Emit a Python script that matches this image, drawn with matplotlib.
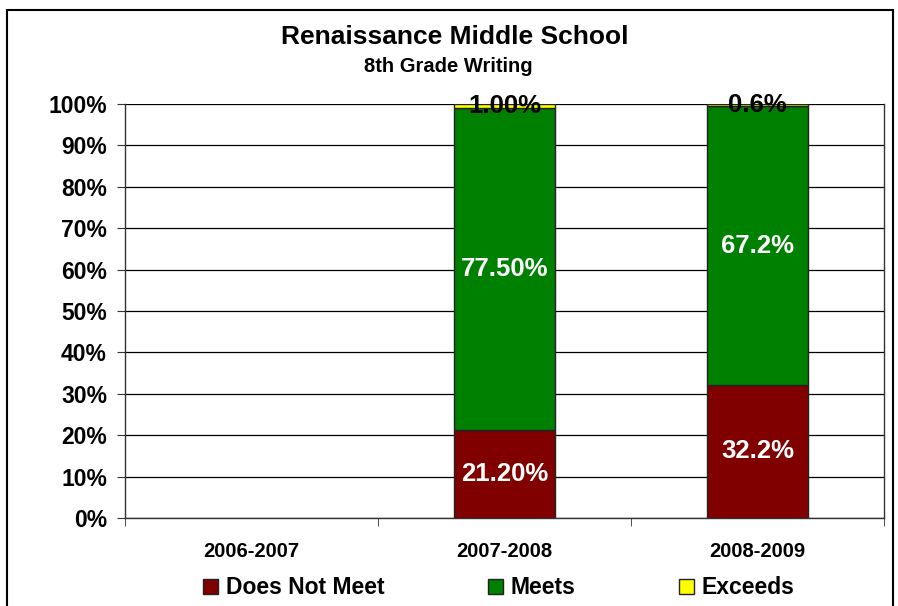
import numpy as np
import matplotlib.pyplot as plt
from matplotlib.patches import Rectangle

plt.rcParams['font.family'] = ['Liberation Sans', 'DejaVu Sans']
plt.rcParams['font.weight'] = 'bold'

years = ['2006-2007', '2007-2008', '2008-2009']
does_not_meet = [0.0, 21.2, 32.2]
meets = [0.0, 77.5, 67.2]
exceeds = [0.0, 1.0, 0.6]
dnm_labels = ['', '21.20%', '32.2%']
meets_labels = ['', '77.50%', '67.2%']
exceeds_labels = ['', '1.00%', '0.6%']

# 100% stacked: scale each column to its total
raw = np.array([does_not_meet, meets, exceeds])
tot = raw.sum(axis=0)
tot[tot == 0] = 1
shares = raw / tot * 100

fig = plt.figure(figsize=(8.98, 6.06), dpi=100)
ax = fig.add_axes([125/898, 88/606, 759/898, 414/606])

x = np.arange(len(years))
colors = ['#800000', '#008000', '#FFFF00']
names = ['Does Not Meet', 'Meets', 'Exceeds']
labels = [dnm_labels, meets_labels, exceeds_labels]
txt_colors = ['white', 'white', 'black']

bottom = np.zeros(len(years))
for i in range(3):
    h = np.where(shares[i] > 0, shares[i], np.nan)  # no empty bar outline
    bars = ax.bar(x, h, 0.4, bottom=bottom, color=colors[i],
                  edgecolor='#222222', linewidth=1, label=names[i], zorder=3)
    for j, b in enumerate(bars):
        if labels[i][j]:
            ax.text(x[j], bottom[j] + shares[i][j]/2,
                    labels[i][j], ha='center', va='center', fontsize=18.5,
                    color=txt_colors[i], fontweight='bold', zorder=5)
    bottom += shares[i]

ax.set_xlim(-0.5, 2.5)
ax.set_ylim(0, 100)
ax.set_yticks(np.arange(0, 101, 10))
ax.set_yticklabels([f'{v}%' for v in range(0, 101, 10)], fontsize=16.5)
ax.yaxis.grid(True, color='black', linewidth=0.9, zorder=0)
ax.set_axisbelow(True)

ax.set_xticks(x)
ax.set_xticklabels(years, fontsize=14.5)
ax.set_xticks([-0.5, 0.5, 1.5, 2.5], minor=True)
ax.tick_params(axis='x', which='major', length=0, pad=17)
ax.tick_params(axis='x', which='minor', length=6, direction='out', color='#333333')
ax.tick_params(axis='y', length=6, direction='out', color='#333333', pad=7)

for s in ['left', 'bottom', 'right']:
    ax.spines[s].set_color('#333333')
    ax.spines[s].set_linewidth(1)
ax.spines['top'].set_visible(False)

fig.text(455/898, 1 - 37/606, 'Renaissance Middle School', ha='center', va='center',
         fontsize=19, fontweight='bold')
fig.text(448/898, 1 - 67/606, '8th Grade Writing', ha='center', va='center',
         fontsize=14.5, fontweight='bold')

leg = fig.legend(loc='center', bbox_to_anchor=(499/898, 1 - 588/606), ncol=3,
                 frameon=False, fontsize=16.5, handlelength=0.65, handleheight=0.65,
                 handletextpad=0.35, columnspacing=4.5)

fig.patches.append(Rectangle((7/898, -0.02), 886/898, 1 - 10/606 + 0.02,
                             transform=fig.transFigure, fill=False,
                             edgecolor='black', linewidth=1.5))

fig.savefig('out.png', dpi=100)
